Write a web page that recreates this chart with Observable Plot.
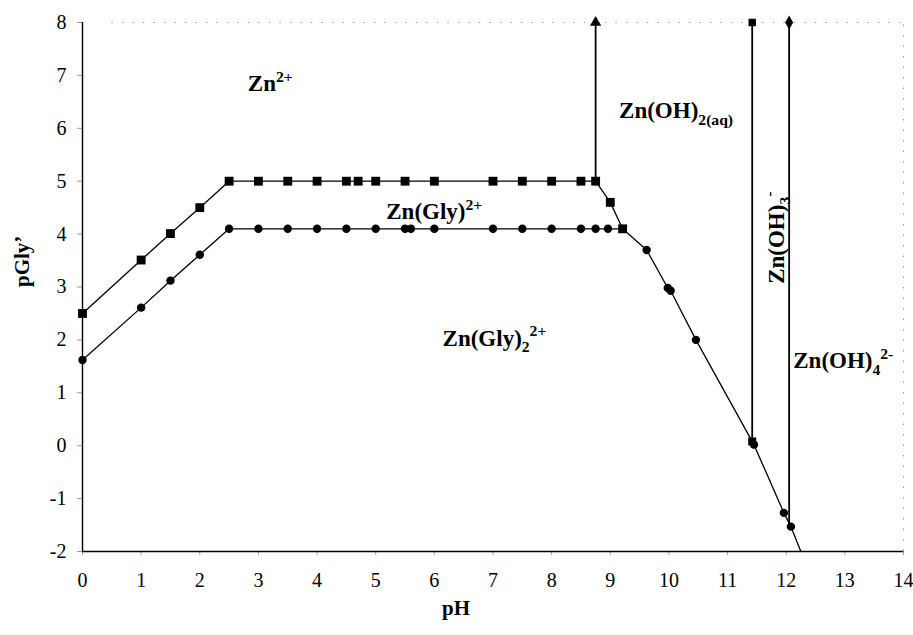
<!DOCTYPE html>
<html><head><meta charset="utf-8">
<script src="https://cdn.jsdelivr.net/npm/d3@7"></script>
<script src="https://cdn.jsdelivr.net/npm/@observablehq/plot@0.6"></script>
<style>
body{margin:0;background:#fff}
svg, svg text, svg tspan{font-family:"Liberation Serif","Times New Roman",serif !important;}
</style>
</head><body><div id="chart"></div>
<script>
// Upper boundary Zn2+ / Zn(Gly)2+ (square markers)
const sqPH   = [0, 1, 1.5, 2, 2.5, 3, 3.5, 4, 4.5, 4.7, 5, 5.5, 6, 7, 7.5, 8, 8.5, 8.75, 9, 9.21];
const sqPGly = [2.5, 3.51, 4.01, 4.5, 5, 5, 5, 5, 5, 5, 5, 5, 5, 5, 5, 5, 5, 5, 4.6, 4.1];
// Lower boundary Zn(Gly)2+ / Zn(Gly)2 2+ and its continuation (circle markers)
const lowPH   = [0, 1, 1.5, 2, 2.5, 3, 3.5, 4, 4.5, 5, 5.5, 5.6, 6, 7, 7.5, 8, 8.5, 8.75, 8.96, 9.21, 9.62, 9.98, 10.03, 10.46, 11.45, 11.96, 12.08, 12.25];
const lowPGly = [1.62, 2.61, 3.12, 3.61, 4.1, 4.1, 4.1, 4.1, 4.1, 4.1, 4.1, 4.1, 4.1, 4.1, 4.1, 4.1, 4.1, 4.1, 4.1, 4.1, 3.7, 2.98, 2.93, 2.0, 0.02, -1.27, -1.53, -2.0];
const lowMarked = [1,1,1,1,1,1,1,1,1,1,1,1,1,1,1,1,1,1,1,0,1,1,1,1,1,1,1,0];
// Vertical boundaries
const vPH     = [8.75, 11.42, 12.05];
const vLow    = [5.0, 0.08, -1.5];
const vHigh   = [8, 8, 8];
const vSymbol = ["triangle", "square", "diamond"];
// Region labels (_{} subscript, ^{} superscript)
const labelText = ["Zn^{2+}", "Zn(Gly)^{2+}", "Zn(Gly)_{2}^{2+}", "Zn(OH)_{2(aq)}", "Zn(OH)_{4}^{2-}"];
const labelPH   = [2.82, 5.18, 6.14, 9.15, 12.12];
const labelPGly = [6.84, 4.42, 2.03, 6.33, 1.6];
const rotText = ["Zn(OH)_{3}^{-}"];
const rotPH   = [11.83];
const rotPGly = [3.06];
const xTicks = [0,1,2,3,4,5,6,7,8,9,10,11,12,13,14];
const yTicks = [-2,-1,0,1,2,3,4,5,6,7,8];
const xLabel = "pH";
const yLabel = "pGly’";

const sq = sqPH.map((x, i) => ({x, y: sqPGly[i]}));
const low = lowPH.map((x, i) => ({x, y: lowPGly[i], m: lowMarked[i]}));
const vb = vPH.map((x, i) => ({x, y1: vLow[i], y2: vHigh[i], s: vSymbol[i]}));
const labels = labelText.map((t, i) => ({t, x: labelPH[i], y: labelPGly[i]}));
const rot = rotText.map((t, i) => ({t, x: rotPH[i], y: rotPGly[i]}));

const FF = "'Liberation Serif', 'Times New Roman', serif";
const LFS = 23;
const chart = Plot.plot({
  width: 913, height: 635,
  marginLeft: 82, marginRight: 10, marginTop: 22, marginBottom: 84,
  style: {fontFamily: FF, fontSize: "20px", background: "#fff", color: "#000"},
  x: {domain: [0, 14]},
  y: {domain: [-2, 8]},
  symbol: {domain: ["triangle", "square", "diamond"], range: ["triangle", "square", "diamond"]},
  marks: [
    Plot.ruleY([8], {x1: 0.5, x2: 14, stroke: "#999", strokeDasharray: "1.5,9"}),
    Plot.ruleX([14], {y1: -2, y2: 8, stroke: "#999", strokeDasharray: "1.5,9"}),
    Plot.axisX({ticks: xTicks, tickSize: 4, tickPadding: 17, stroke: "#999", label: null, fontSize: 20, fontFamily: FF, tickFormat: d => String(d)}),
    Plot.axisY({ticks: yTicks, tickSize: 5, tickPadding: 11, stroke: "#999", label: null, fontSize: 20, fontFamily: FF, tickFormat: d => String(d)}),
    Plot.ruleX([0], {y1: -2, y2: 8, stroke: "#000", strokeWidth: 1.4}),
    Plot.ruleY([-2], {x1: 0, x2: 14, stroke: "#000", strokeWidth: 1.4}),
    Plot.line(sq, {x: "x", y: "y", stroke: "#000", strokeWidth: 1.3}),
    Plot.line(low, {x: "x", y: "y", stroke: "#000", strokeWidth: 1.3}),
    Plot.ruleX(vb, {x: "x", y1: "y1", y2: "y2", stroke: "#000", strokeWidth: 1.8}),
    Plot.dot(sq, {x: "x", y: "y", symbol: "square", r: 5, fill: "#000"}),
    Plot.dot(low.filter(d => d.m), {x: "x", y: "y", symbol: "circle", r: 4.2, fill: "#000"}),
    Plot.dot(vb, {x: "x", y: "y2", symbol: "s", r: 4.2, fill: "#000"}),
    Plot.dot(vb.filter(d => d.s === "square"), {x: "x", y: "y1", symbol: "square", r: 4.5, fill: "#000"}),
    Plot.text(labels, {x: "x", y: "y", text: "t", textAnchor: "start", fontSize: LFS, fontFamily: FF, fontWeight: "bold", fill: "#000"}),
    Plot.text(rot, {x: "x", y: "y", text: "t", textAnchor: "start", rotate: -90, fontSize: LFS, fontFamily: FF, fontWeight: "bold", fill: "#000"}),
    Plot.text([xLabel], {frameAnchor: "bottom", dy: 63, dx: -37, fontSize: 21, fontFamily: FF, fontWeight: "bold", fill: "#000"}),
    Plot.text([yLabel], {frameAnchor: "left", dx: -60, rotate: -90, fontSize: 21, fontFamily: FF, fontWeight: "bold", fill: "#000"})
  ]
});

function richify(svg, fs) {
  svg.querySelectorAll('g[aria-label="text"] text').forEach(t => {
    const s = t.textContent;
    if (!/[_^]\{/.test(s)) return;
    const parts = [];
    const re = /([_^])\{([^}]*)\}|([^_^]+)/g; let m;
    while ((m = re.exec(s))) parts.push(m[3] !== undefined ? {k: "n", s: m[3]} : {k: m[1], s: m[2]});
    t.textContent = "";
    let cur = 0;
    for (const p of parts) {
      const off = p.k === "_" ? 0.28 * fs : p.k === "^" ? -0.42 * fs : 0;
      const ts = document.createElementNS("http://www.w3.org/2000/svg", "tspan");
      ts.setAttribute("dy", off - cur); cur = off;
      if (p.k !== "n") ts.setAttribute("font-size", 0.68 * fs);
      ts.textContent = p.s;
      t.appendChild(ts);
    }
  });
}
richify(chart, LFS);
chart.setAttribute("font-family", FF);
chart.querySelectorAll("g, text, tspan").forEach(el => {
  if (el.hasAttribute("font-family")) el.setAttribute("font-family", FF);
});
chart.querySelectorAll("text, tspan").forEach(el => el.style.setProperty("font-family", FF, "important"));
document.getElementById("chart").appendChild(chart);
</script>
</body></html>
